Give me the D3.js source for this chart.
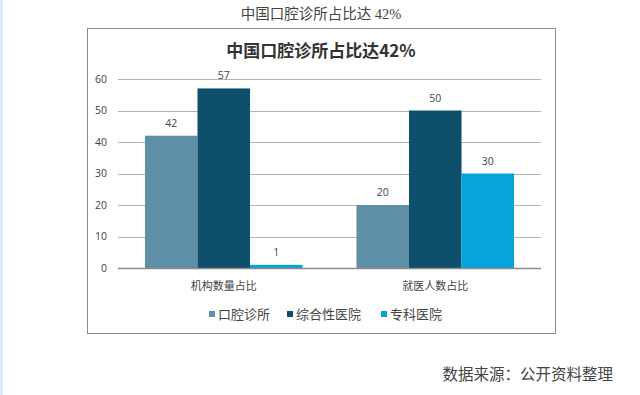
<!DOCTYPE html>
<html>
<head>
<meta charset="utf-8">
<script src="https://cdn.jsdelivr.net/npm/d3@7"></script>
<style>
  body { margin: 0; background: #fff; }
  svg { display: block; }
</style>
</head>
<body>
<div id="chart"></div>
<script>
// chart data
const categories = ["机构数量占比", "就医人数占比"]
const seriesNames = ["口腔诊所", "综合性医院", "专科医院"]
const seriesColors = ["#5f90a8", "#0e4f6c", "#07a3dc"]
const clinicValues = [42, 20]
const generalValues = [57, 50]
const specialValues = [1, 30]
const yTicks = [0, 10, 20, 30, 40, 50, 60]

const seriesValues = [clinicValues, generalValues, specialValues]

const W = 640, H = 395
const plot = { left: 118, right: 541, top: 79, bottom: 268 }

const svg = d3.select("#chart")
  .append("svg")
    .attr("width", W)
    .attr("height", H)

// light blue strip at the left of the page
svg.append("rect")
  .attr("x", 0).attr("y", 0)
  .attr("width", 3).attr("height", H)
  .attr("fill", "#dce9f6")

// page title
svg.append("text")
  .attr("x", 321).attr("y", 19)
  .attr("text-anchor", "middle")
  .attr("font-family", "'Liberation Serif', 'Noto Sans CJK SC', serif")
  .attr("font-size", 14.5)
  .attr("fill", "#444")
  .text("中国口腔诊所占比达 42%")

// chart frame
svg.append("rect")
  .attr("x", 87.5).attr("y", 28.5)
  .attr("width", 468).attr("height", 305)
  .attr("fill", "#fff")
  .attr("stroke", "#8c8c8c")
  .attr("stroke-width", 1)

// inner title
svg.append("text")
  .attr("x", 321).attr("y", 57)
  .attr("text-anchor", "middle")
  .attr("font-family", "'Noto Sans CJK SC', sans-serif")
  .attr("font-size", 17)
  .attr("font-weight", "bold")
  .attr("fill", "#333")
  .text("中国口腔诊所占比达42%")

// scales
const y = d3.scaleLinear()
  .domain([0, 60])
  .range([plot.bottom, plot.top])

const x0 = d3.scaleBand()
  .domain(categories)
  .range([plot.left, plot.right])
  .paddingInner(0.255)
  .paddingOuter(0.1275)

const x1 = d3.scaleBand()
  .domain(seriesNames)
  .range([0, x0.bandwidth()])

// gridlines
svg.append("g")
  .selectAll("line")
  .data(yTicks.filter(d => d > 0))
  .join("line")
    .attr("x1", plot.left).attr("x2", plot.right)
    .attr("y1", d => Math.round(y(d)) + 0.5)
    .attr("y2", d => Math.round(y(d)) + 0.5)
    .attr("stroke", "#b3b3b3")
    .attr("stroke-width", 1)

// y axis labels
svg.append("g")
  .selectAll("text")
  .data(yTicks)
  .join("text")
    .attr("x", 107)
    .attr("y", d => y(d))
    .attr("dy", "0.35em")
    .attr("text-anchor", "end")
    .attr("font-family", "'Open Sans', 'Noto Sans', sans-serif")
    .attr("font-size", 10.5)
    .attr("fill", "#444")
    .text(d => d)

// bars
const groups = svg.append("g")
  .selectAll("g")
  .data(categories)
  .join("g")
    .attr("transform", d => `translate(${x0(d)},0)`)

groups.selectAll("rect")
  .data((c, ci) => seriesNames.map((s, si) => ({ s: s, v: seriesValues[si][ci], color: seriesColors[si] })))
  .join("rect")
    .attr("x", d => x1(d.s))
    .attr("y", d => y(d.v))
    .attr("width", x1.bandwidth())
    .attr("height", d => y(0) - y(d.v))
    .attr("fill", d => d.color)

// value labels
groups.selectAll("text")
  .data((c, ci) => seriesNames.map((s, si) => ({ s: s, v: seriesValues[si][ci] })))
  .join("text")
    .attr("x", d => x1(d.s) + x1.bandwidth() / 2)
    .attr("y", d => y(d.v) - 9)
    .attr("text-anchor", "middle")
    .attr("font-family", "'Open Sans', 'Noto Sans', sans-serif")
    .attr("font-size", 10.5)
    .attr("fill", "#444")
    .text(d => d.v)

// baseline
svg.append("line")
  .attr("x1", plot.left).attr("x2", plot.right)
  .attr("y1", Math.round(y(0)) + 0.5).attr("y2", Math.round(y(0)) + 0.5)
  .attr("stroke", "#8c8c8c")
  .attr("stroke-width", 1.5)

// category labels
svg.append("g")
  .selectAll("text")
  .data(categories)
  .join("text")
    .attr("x", d => x0(d) + x0.bandwidth() / 2)
    .attr("y", 290)
    .attr("text-anchor", "middle")
    .attr("font-family", "'Noto Sans CJK SC', sans-serif")
    .attr("font-size", 11)
    .attr("fill", "#444")
    .text(d => d)

// legend
const legendX = [209, 287, 381]
const legend = svg.append("g")
  .selectAll("g")
  .data(seriesNames)
  .join("g")
    .attr("transform", (d, i) => `translate(${legendX[i]},314)`)

legend.append("rect")
  .attr("x", 0).attr("y", -3)
  .attr("width", 6).attr("height", 6)
  .attr("fill", (d, i) => seriesColors[i])

legend.append("text")
  .attr("x", 9)
  .attr("y", 0)
  .attr("dy", "0.36em")
  .attr("font-family", "'Noto Sans CJK SC', sans-serif")
  .attr("font-size", 13)
  .attr("fill", "#444")
  .text(d => d)

// source note
svg.append("text")
  .attr("x", 613).attr("y", 380)
  .attr("text-anchor", "end")
  .attr("font-family", "'Liberation Serif', 'Noto Sans CJK SC', serif")
  .attr("font-size", 15.5)
  .attr("fill", "#444")
  .text("数据来源：公开资料整理")
</script>
</body>
</html>
